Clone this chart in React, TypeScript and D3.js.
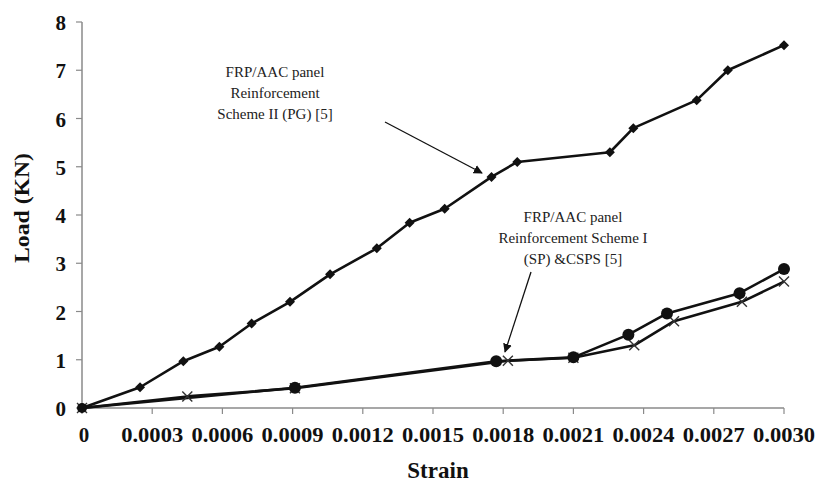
import React from "react";
import * as d3 from "d3";

const pgStrain = [0, 0.000248, 0.000433, 0.000587, 0.000725, 0.000889, 0.00106, 0.00126, 0.0014, 0.00155, 0.00175, 0.00186, 0.002256, 0.002356, 0.002627, 0.00276, 0.003];
const pgLoad = [0, 0.43, 0.97, 1.27, 1.75, 2.2, 2.77, 3.31, 3.84, 4.13, 4.79, 5.1, 5.3, 5.8, 6.38, 7.0, 7.52];

const spStrain = [0, 0.00091, 0.00177, 0.0021, 0.002335, 0.0025, 0.00281, 0.003];
const spLoad = [0, 0.42, 0.97, 1.05, 1.52, 1.96, 2.38, 2.88];

const cspsStrain = [0, 0.00045, 0.00091, 0.00182, 0.0021, 0.00236, 0.00253, 0.00282, 0.003];
const cspsLoad = [0, 0.24, 0.41, 0.98, 1.04, 1.3, 1.8, 2.2, 2.62];

const xTicks = [0, 0.0003, 0.0006, 0.0009, 0.0012, 0.0015, 0.0018, 0.0021, 0.0024, 0.0027, 0.003];
const xTickLabels = ["0", "0.0003", "0.0006", "0.0009", "0.0012", "0.0015", "0.0018", "0.0021", "0.0024", "0.0027", "0.0030"];
const yTicks = [0, 1, 2, 3, 4, 5, 6, 7, 8];

const pgLabel = ["FRP/AAC panel", "Reinforcement", "Scheme II (PG) [5]"];
const spLabel = ["FRP/AAC panel", "Reinforcement Scheme I", "(SP) &CSPS [5]"];

export default function App() {
  const x = d3.scaleLinear().domain([0, 0.003]).range([82, 784]);
  const y = d3.scaleLinear().domain([0, 8]).range([408, 22]);
  const line = d3.line<[number, number]>().x((d) => x(d[0])).y((d) => y(d[1]));
  const pg: [number, number][] = pgStrain.map((s, i) => [s, pgLoad[i]]);
  const sp: [number, number][] = spStrain.map((s, i) => [s, spLoad[i]]);
  const cs: [number, number][] = cspsStrain.map((s, i) => [s, cspsLoad[i]]);
  const serif = "'Liberation Serif', 'DejaVu Serif', serif";
  const axisColor = "#8a8a8a";

  return (
    <div style={{ position: "absolute", left: 0, top: 0 }}>
      <svg width={815} height={488} style={{ display: "block", background: "#fff" }}>
        <defs>
          <marker id="ah" viewBox="0 0 10 10" refX="9" refY="5" markerWidth="7" markerHeight="7" orient="auto-start-reverse">
            <path d="M0,0 L10,5 L0,10 z" fill="#111" />
          </marker>
        </defs>
        {/* axes */}
        <line x1={x(0)} x2={x(0)} y1={y(8)} y2={y(0)} stroke={axisColor} strokeWidth={1.5} />
        <line x1={x(0)} x2={x(0.003)} y1={y(0)} y2={y(0)} stroke={axisColor} strokeWidth={1.5} />
        {yTicks.map((t) => (
          <g key={"y" + t}>
            <line x1={x(0) - 6} x2={x(0)} y1={y(t)} y2={y(t)} stroke={axisColor} strokeWidth={1.2} />
            <text x={66} y={y(t) + 8} textAnchor="end" fontFamily={serif} fontWeight="bold" fontSize={21} fill="#111">{t}</text>
          </g>
        ))}
        {xTicks.map((t, i) => (
          <g key={"x" + i}>
            <line x1={x(t)} x2={x(t)} y1={y(0)} y2={y(0) + 6} stroke={axisColor} strokeWidth={1.2} />
            <text x={x(t) + (i === 0 ? 2 : 0)} y={442} textAnchor="middle" fontFamily={serif} fontWeight="bold" fontSize={21} fill="#111" textLength={i === 0 ? undefined : 62} lengthAdjust="spacingAndGlyphs">{xTickLabels[i]}</text>
          </g>
        ))}
        <text x={438} y={478} textAnchor="middle" fontFamily={serif} fontWeight="bold" fontSize={23} fill="#111">Strain</text>
        <text transform={`translate(29,208) rotate(-90)`} textAnchor="middle" fontFamily={serif} fontWeight="bold" fontSize={22} fill="#111" textLength={110} lengthAdjust="spacingAndGlyphs">Load (KN)</text>

        {/* series */}
        <path d={line(cs) || ""} fill="none" stroke="#111" strokeWidth={2.6} strokeLinejoin="round" />
        <path d={line(sp) || ""} fill="none" stroke="#111" strokeWidth={2.6} strokeLinejoin="round" />
        <path d={line(pg) || ""} fill="none" stroke="#111" strokeWidth={2.6} strokeLinejoin="round" />
        {cs.map((d, i) => (
          <path key={"c" + i} d={`M${x(d[0]) - 5},${y(d[1]) - 5}L${x(d[0]) + 5},${y(d[1]) + 5}M${x(d[0]) - 5},${y(d[1]) + 5}L${x(d[0]) + 5},${y(d[1]) - 5}`} stroke="#333" strokeWidth={1.4} />
        ))}
        {sp.map((d, i) => (
          <circle key={"s" + i} cx={x(d[0])} cy={y(d[1])} r={i === 0 ? 5 : 6} fill="#111" />
        ))}
        {pg.map((d, i) => (
          <path key={"p" + i} d={`M${x(d[0])},${y(d[1]) - 5}L${x(d[0]) + 5},${y(d[1])}L${x(d[0])},${y(d[1]) + 5}L${x(d[0]) - 5},${y(d[1])}Z`} fill="#111" />
        ))}

        {/* annotations */}
        {pgLabel.map((t, i) => (
          <text key={"pl" + i} x={275} y={77 + i * 21} textAnchor="middle" fontFamily={serif} fontSize={15} fill="#222">{t}</text>
        ))}
        <line x1={385} y1={122} x2={482} y2={173} stroke="#111" strokeWidth={1.3} markerEnd="url(#ah)" />
        {spLabel.map((t, i) => (
          <text key={"sl" + i} x={573} y={222 + i * 21} textAnchor="middle" fontFamily={serif} fontSize={15} fill="#222">{t}</text>
        ))}
        <line x1={531} y1={272} x2={505} y2={352} stroke="#111" strokeWidth={1.3} markerEnd="url(#ah)" />
      </svg>
    </div>
  );
}
